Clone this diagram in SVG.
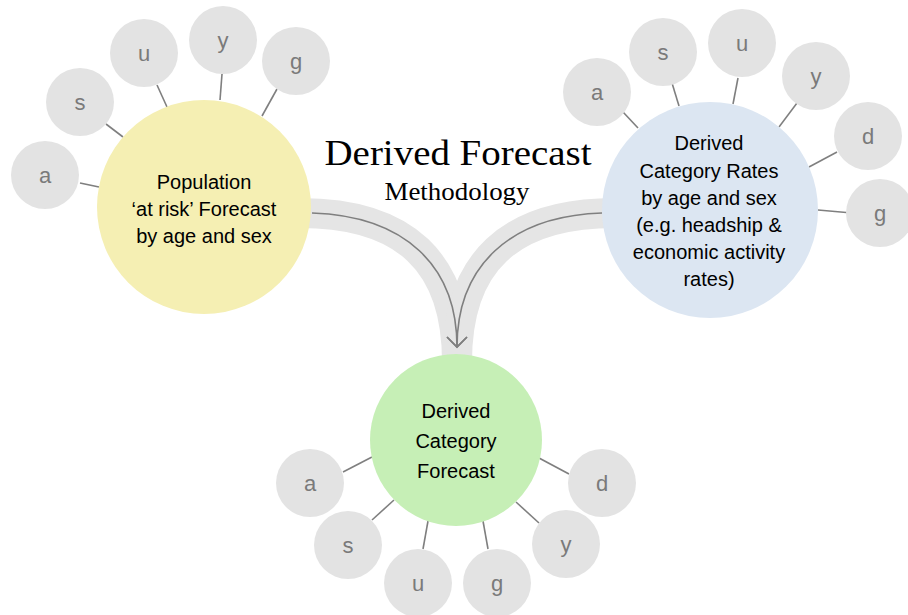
<svg xmlns="http://www.w3.org/2000/svg" width="908" height="615" viewBox="0 0 908 615">
<style>
.sat{fill:#e3e3e3}
.lbl{font-family:"Liberation Sans",Arial,sans-serif;font-size:22px;fill:#7a7a7a;text-anchor:middle}
.main{font-family:"Liberation Sans",Arial,sans-serif;font-size:20px;fill:#000;text-anchor:middle}
.spoke{stroke:#7f7f7f;stroke-width:1.6;fill:none}
.band{stroke:#e5e5e5;stroke-width:30;fill:none}
.flow{stroke:#7f7f7f;stroke-width:1.6;fill:none;marker-end:url(#arr)}
.ttl{font-family:"Liberation Serif","Times New Roman",serif;fill:#000;text-anchor:middle}
</style>
<defs>
<marker id="arr" markerUnits="userSpaceOnUse" markerWidth="24" markerHeight="24" refX="12" refY="12" orient="auto" viewBox="0 0 24 24">
<path d="M2,2 L12,12 L2,22" fill="none" stroke="#7f7f7f" stroke-width="1.6"/>
</marker>
</defs>
<rect width="908" height="615" fill="#fff"/>

<g id="connectors">
<path class="band" d="M300,213 C405,213 457,262 457,362"/>
<path class="band" d="M615,213 C510,213 457,262 457,362"/>
<path class="flow" d="M312,213 C405,216 457,266 457,347"/>
<path class="flow" d="M602,213 C510,216 457,266 457,347"/>
<g class="spoke">
<line x1="80" y1="183" x2="99" y2="187"/>
<line x1="106" y1="124" x2="123" y2="137"/>
<line x1="157" y1="85" x2="167" y2="107"/>
<line x1="222" y1="74" x2="220" y2="100"/>
<line x1="277" y1="89" x2="262" y2="116"/>
<line x1="623" y1="112" x2="638" y2="128"/>
<line x1="672" y1="83" x2="679" y2="106"/>
<line x1="738" y1="78" x2="733" y2="104"/>
<line x1="797" y1="103" x2="779" y2="127"/>
<line x1="837" y1="152" x2="809" y2="167"/>
<line x1="852" y1="213" x2="818" y2="210"/>
<line x1="343" y1="472" x2="372" y2="457"/>
<line x1="372" y1="520" x2="394" y2="500"/>
<line x1="423" y1="549" x2="428" y2="521"/>
<line x1="488" y1="549" x2="483" y2="521"/>
<line x1="539" y1="523" x2="516" y2="502"/>
<line x1="569" y1="474" x2="539" y2="458"/>
</g>
</g>

<g id="title">
<text class="ttl" x="458" y="165" font-size="35" textLength="267" lengthAdjust="spacingAndGlyphs">Derived Forecast</text>
<text class="ttl" x="457" y="200" font-size="26" textLength="145" lengthAdjust="spacingAndGlyphs">Methodology</text>
</g>

<g id="population">
<circle cx="204" cy="207" r="107" fill="#f5efb3"/>
<text class="main" x="204" y="189">Population</text>
<text class="main" x="204" y="216">‘at risk’ Forecast</text>
<text class="main" x="204" y="243">by age and sex</text>
</g>
<g id="pop-a"><circle class="sat" cx="45" cy="175" r="34"/><text class="lbl" x="45" y="182.5">a</text></g>
<g id="pop-s"><circle class="sat" cx="80" cy="102" r="34"/><text class="lbl" x="80" y="109.5">s</text></g>
<g id="pop-u"><circle class="sat" cx="144" cy="53" r="34"/><text class="lbl" x="144" y="60.5">u</text></g>
<g id="pop-y"><circle class="sat" cx="223" cy="40" r="34"/><text class="lbl" x="223" y="47.5">y</text></g>
<g id="pop-g"><circle class="sat" cx="296" cy="61" r="34"/><text class="lbl" x="296" y="68.5">g</text></g>

<g id="rates">
<circle cx="710" cy="210" r="108" fill="#dce6f2"/>
<text class="main" x="709" y="150">Derived</text>
<text class="main" x="709" y="178">Category Rates</text>
<text class="main" x="709" y="205">by age and sex</text>
<text class="main" x="709" y="232">(e.g. headship &amp;</text>
<text class="main" x="709" y="259">economic activity</text>
<text class="main" x="709" y="286">rates)</text>
</g>
<g id="rates-a"><circle class="sat" cx="597" cy="92" r="34"/><text class="lbl" x="597" y="99.5">a</text></g>
<g id="rates-s"><circle class="sat" cx="663" cy="52" r="34"/><text class="lbl" x="663" y="59.5">s</text></g>
<g id="rates-u"><circle class="sat" cx="742" cy="43" r="34"/><text class="lbl" x="742" y="50.5">u</text></g>
<g id="rates-y"><circle class="sat" cx="816" cy="76" r="34"/><text class="lbl" x="816" y="83.5">y</text></g>
<g id="rates-d"><circle class="sat" cx="868" cy="136" r="34"/><text class="lbl" x="868" y="143.5">d</text></g>
<g id="rates-g"><circle class="sat" cx="880" cy="213" r="34"/><text class="lbl" x="880" y="220.5">g</text></g>

<g id="forecast">
<circle cx="456" cy="440" r="86" fill="#c6efb6"/>
<text class="main" x="456" y="418" font-size="21.5">Derived</text>
<text class="main" x="456" y="448" font-size="21.5">Category</text>
<text class="main" x="456" y="478" font-size="21.5">Forecast</text>
</g>
<g id="fc-a"><circle class="sat" cx="310" cy="483" r="34"/><text class="lbl" x="310" y="490.5">a</text></g>
<g id="fc-s"><circle class="sat" cx="348" cy="545" r="34"/><text class="lbl" x="348" y="552.5">s</text></g>
<g id="fc-u"><circle class="sat" cx="418" cy="583" r="34"/><text class="lbl" x="418" y="590.5">u</text></g>
<g id="fc-g"><circle class="sat" cx="497" cy="583" r="34"/><text class="lbl" x="497" y="590.5">g</text></g>
<g id="fc-y"><circle class="sat" cx="566" cy="544" r="34"/><text class="lbl" x="566" y="551.5">y</text></g>
<g id="fc-d"><circle class="sat" cx="602" cy="483" r="34"/><text class="lbl" x="602" y="490.5">d</text></g>
</svg>
